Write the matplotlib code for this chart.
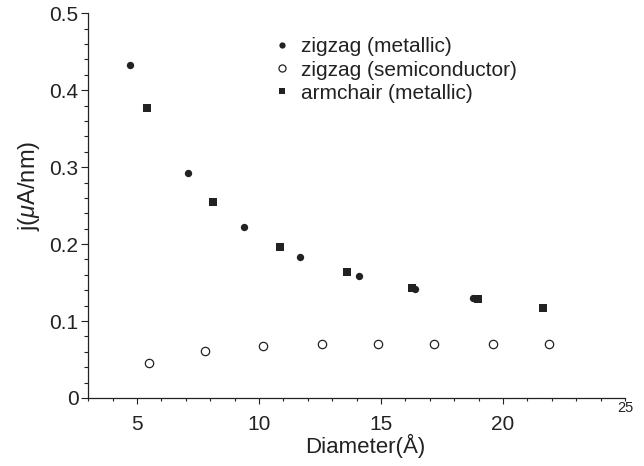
import numpy as np
import matplotlib.pyplot as plt
from matplotlib.ticker import MultipleLocator, FuncFormatter

plt.rcParams['font.family'] = ['Liberation Sans', 'DejaVu Sans']
plt.rcParams['mathtext.fontset'] = 'custom'
plt.rcParams['mathtext.it'] = 'Liberation Sans:italic'

# zigzag (metallic)
zz_met_d = [4.71, 7.10, 9.39, 11.69, 14.08, 16.39, 18.78]
zz_met_j = [0.433, 0.292, 0.2225, 0.1835, 0.158, 0.141, 0.1295]

# zigzag (semiconductor)
zz_semi_d = [5.50, 7.80, 10.17, 12.59, 14.89, 17.18, 19.59, 21.87]
zz_semi_j = [0.0458, 0.0606, 0.0671, 0.0701, 0.0701, 0.0701, 0.0705, 0.0696]

# armchair (metallic)
arm_d = [5.41, 8.10, 10.88, 13.59, 16.25, 18.98, 21.65]
arm_j = [0.377, 0.255, 0.1965, 0.1636, 0.1425, 0.128, 0.117]

xticks = [5, 10, 15, 20]
ink = '#222222'

fig = plt.figure(figsize=(6.44, 4.66), dpi=100)
ax = fig.add_axes([0.137, 0.146, 0.8335, 0.8255])

ax.plot(zz_met_d, zz_met_j, 'o', color=ink, ms=5.3, mew=0, label='zigzag (metallic)')
ax.plot(zz_semi_d, zz_semi_j, 'o', mfc='white', mec=ink, ms=6.0, mew=0.9,
        label='zigzag (semiconductor)')
ax.plot(arm_d, arm_j, 's', color=ink, ms=5.3, mew=0, label='armchair (metallic)')

ax.set_xlim(3, 25)
ax.set_ylim(0, 0.5)

for s in ['top', 'right']:
    ax.spines[s].set_visible(False)
for s in ['left', 'bottom']:
    ax.spines[s].set_color(ink)
    ax.spines[s].set_linewidth(0.9)

ax.set_xticks(xticks)
ax.xaxis.set_minor_locator(MultipleLocator(1))
ax.yaxis.set_major_locator(MultipleLocator(0.1))
ax.yaxis.set_minor_locator(MultipleLocator(0.02))
ax.yaxis.set_major_formatter(FuncFormatter(lambda v, p: '0' if abs(v) < 1e-9 else f'{v:.1f}'))

ax.tick_params(axis='both', which='both', direction='out', color=ink, width=0.8,
               labelsize=15, labelcolor=ink)
ax.tick_params(axis='x', which='major', length=4, pad=8)
ax.tick_params(axis='x', which='minor', length=2.5)
ax.tick_params(axis='y', which='major', length=5, pad=2)
ax.tick_params(axis='y', which='minor', length=3)

# the "25" label sits raised and smaller in the original
ax.text(25, -0.013, '25', fontsize=10.5, color=ink, ha='center', va='center')

ax.set_xlabel('Diameter(Å)', fontsize=16, color=ink, va='center')
ax.xaxis.set_label_coords(0.5155, -0.125)
ax.set_ylabel(r'j($\mu$A/nm)', fontsize=17, color=ink, va='center')
ax.yaxis.set_label_coords(-0.1105, 0.55)

ax.legend(loc='upper left', bbox_to_anchor=(0.33, 0.959), frameon=False,
          fontsize=15, handlelength=0.8, handletextpad=0.5, labelspacing=0.2,
          markerscale=0.85, borderaxespad=0, labelcolor=ink)

plt.savefig('out.png', dpi=100)
